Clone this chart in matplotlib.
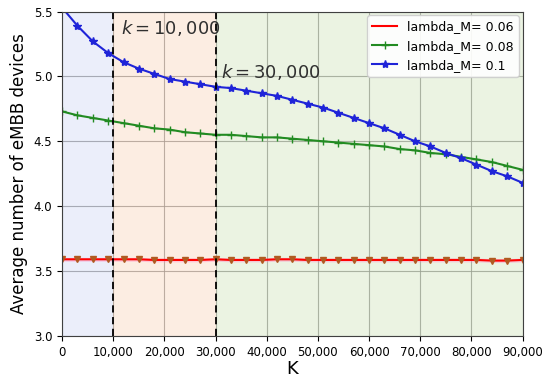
import numpy as np
import matplotlib.pyplot as plt
import matplotlib.ticker as ticker

# K values (every 3000)
k_vals = list(range(0, 90001, 3000))

avg_l006 = [3.59, 3.59, 3.59, 3.59, 3.59, 3.59, 3.585, 3.585, 3.585, 3.585,
            3.59, 3.585, 3.585, 3.585, 3.59, 3.59, 3.585, 3.585, 3.585, 3.585,
            3.585, 3.585, 3.585, 3.585, 3.585, 3.585, 3.585, 3.585, 3.58, 3.58, 3.585]
avg_l008 = [4.73, 4.70, 4.68, 4.66, 4.64, 4.62, 4.60, 4.59, 4.57, 4.56,
            4.55, 4.55, 4.54, 4.53, 4.53, 4.52, 4.51, 4.50, 4.49, 4.48,
            4.47, 4.46, 4.44, 4.43, 4.41, 4.40, 4.38, 4.36, 4.34, 4.31, 4.28]
avg_l01 = [5.53, 5.39, 5.27, 5.18, 5.11, 5.06, 5.02, 4.98, 4.96, 4.94,
           4.92, 4.91, 4.89, 4.87, 4.85, 4.82, 4.79, 4.76, 4.72, 4.68,
           4.64, 4.60, 4.55, 4.50, 4.46, 4.41, 4.37, 4.32, 4.27, 4.23, 4.18]

fig, ax = plt.subplots(figsize=(5.5, 3.86), dpi=100)

# shaded regions
ax.axvspan(0, 10000, color='#3f5fd0', alpha=0.1, lw=0)
ax.axvspan(10000, 30000, color='#f08a40', alpha=0.15, lw=0)
ax.axvspan(30000, 90000, color='#7ab040', alpha=0.15, lw=0)

ax.grid(True, color='#a0a0a0', lw=0.8, alpha=0.8)
ax.set_axisbelow(True)

ax.fill_between(k_vals, np.array(avg_l006) - 0.015, np.array(avg_l006) + 0.015,
                color='#ff80c0', alpha=0.35, lw=0)
ax.plot(k_vals, avg_l006, '-', color='red', lw=1.5, label='lambda_M= 0.06')
ax.plot(k_vals, avg_l006, 'v', color='#b05a20', ms=4.5, ls='none')
ax.plot(k_vals, avg_l008, '-', color='#228b22', lw=1.5, marker='+', ms=6,
        label='lambda_M= 0.08')
ax.plot(k_vals, avg_l01, '-', color='#1f24d8', lw=1.5, marker='*', ms=6,
        label='lambda_M= 0.1')

ax.axvline(10000, color='black', ls=(0, (4, 2.5)), lw=1.3)
ax.axvline(30000, color='black', ls=(0, (4, 2.5)), lw=1.3)
ax.text(11500, 5.33, r'$k=10,000$', fontsize=13, color='#303030')
ax.text(31000, 4.99, r'$k=30,000$', fontsize=13, color='#303030')

ax.set_xlim(0, 90000)
ax.set_ylim(3.0, 5.5)
ax.set_xticks(range(0, 90001, 10000))
ax.xaxis.set_major_formatter(ticker.FuncFormatter(lambda v, p: f'{int(v):,}'))
ax.tick_params(labelsize=8.5)
for sp in ax.spines.values():
    sp.set_color('#404040')
ax.set_xlabel('K', fontsize=13, labelpad=1)
ax.set_ylabel('Average number of eMBB devices', fontsize=12)

ax.legend(loc='upper right', fontsize=9, framealpha=0.9, handlelength=2,
          borderaxespad=0.3)

plt.subplots_adjust(left=0.113, right=0.95, top=0.97, bottom=0.13)
plt.savefig('out.png', dpi=100)
